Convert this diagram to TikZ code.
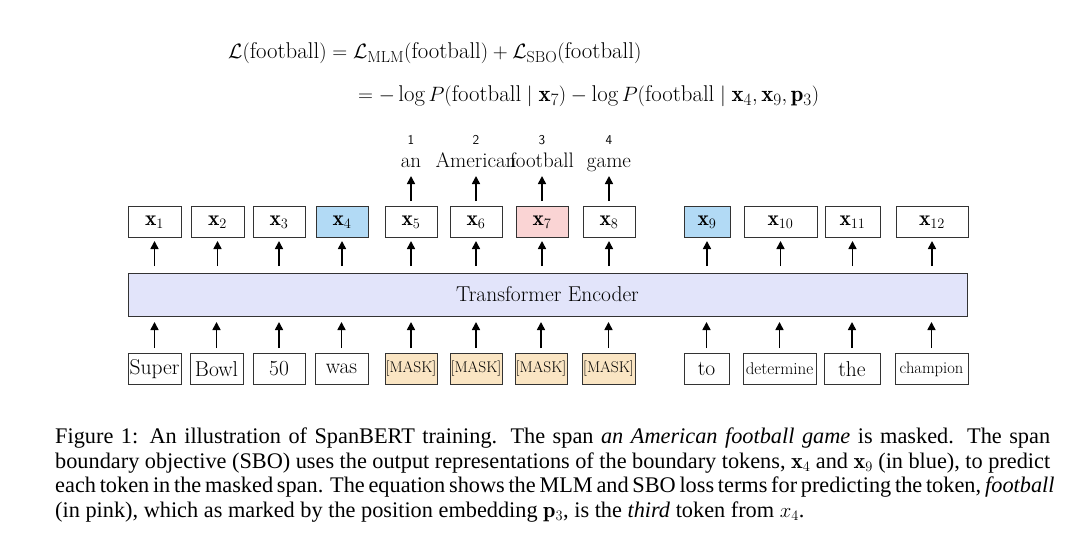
\documentclass[tikz,border=0pt]{standalone}
\usepackage{fontspec}
\usepackage{amsmath}
\newfontfamily\capfont{Liberation Serif}
\usetikzlibrary{arrows.meta}
\definecolor{bl}{RGB}{178,218,245}
\definecolor{pk}{RGB}{250,212,212}
\definecolor{mk}{RGB}{250,229,195}
\definecolor{enc}{RGB}{226,228,250}
\tikzset{
 bx/.style={draw=black!80,line width=0.9pt,minimum height=31pt,inner sep=0pt,font=\fontsize{21.5}{24}\selectfont},
 ar/.style={-{Triangle[length=8pt,width=8pt]},line width=1.6pt},
 captxt/.style={anchor=west,inner sep=0pt,font=\capfont\fontsize{22.3}{25}\selectfont},
}
\newcommand{\capline}[1]{\makebox[995pt][s]{#1}}
\begin{document}
\begin{tikzpicture}[x=1pt,y=-1pt]
\useasboundingbox (0,0) rectangle (1080,541);
\node[font=\fontsize{22.8}{26}\selectfont,anchor=west,inner sep=0pt] (eq1) at (228,53) {$\mathcal{L}(\text{football}) = \mathcal{L}_{\text{MLM}}(\text{football}) + \mathcal{L}_{\text{SBO}}(\text{football})$};
\node[font=\fontsize{22.8}{26}\selectfont,anchor=west,inner sep=0pt] (eq2) at (358,96) {$= -\log P(\text{football} \mid \mathbf{x}_7) - \log P(\text{football} \mid \mathbf{x}_4, \mathbf{x}_9, \mathbf{p}_3)$};
\node[draw=black!80,line width=0.9pt,fill=enc,minimum width=839pt,minimum height=43pt,inner sep=0pt,font=\fontsize{21.5}{24}\selectfont] (enc) at (547.5,294.5) {Transformer Encoder};
\foreach \i/\a/\b/\txt/\col in {1/128/181/{Super}/white,2/190/243/{Bowl}/white,3/253/305/{50}/white,4/315/368/{was}/white,5/385/437/{\fontsize{15.5}{17}\selectfont[MASK]}/mk,6/450/502/{\fontsize{15.5}{17}\selectfont[MASK]}/mk,7/515/567/{\fontsize{15.5}{17}\selectfont[MASK]}/mk,8/582/635/{\fontsize{15.5}{17}\selectfont[MASK]}/mk,9/684/729/{to}/white,10/743/816/{\fontsize{17}{19}\selectfont determine}/white,11/824/880/{the}/white,12/895/968/{\fontsize{16.5}{19}\selectfont champion}/white}{
  \node[bx,fill=\col,minimum width={\b-\a}] (in\i) at ({(\a+\b)/2},369) {\txt};
  \coordinate (ia\i) at ({(\a+\b)/2},348);
  \coordinate (ib\i) at ({(\a+\b)/2},322);
  \draw[ar] (ia\i) -- (ib\i);
}
\foreach \i/\a/\b/\col in {1/128/181/white,2/191/244/white,3/253/305/white,4/316/368/bl,5/385/437/white,6/450/502/white,7/516/568/pk,8/583/635/white,9/684/730/bl,10/744/817/white,11/825/880/white,12/896/968/white}{
  \node[bx,fill=\col,minimum width={\b-\a}] (x\i) at ({(\a+\b)/2},222) {$\mathbf{x}_{\i}$};
  \coordinate (oa\i) at ({(\a+\b)/2},266);
  \coordinate (ob\i) at ({(\a+\b)/2},241);
  \draw[ar] (oa\i) -- (ob\i);
}
\foreach \i/\w/\n in {5/an/1,6/American/2,7/football/3,8/game/4}{
  \node[font=\fontsize{21}{24}\selectfont,anchor=base,inner sep=0pt] (w\i) at (x\i.center |- 0,167) {\w};
  \node[font=\sffamily\fontsize{13.5}{15}\selectfont] (n\i) at (x\i.center |- 0,140) {\n};
  \coordinate (wa\i) at (x\i.center |- 0,201);
  \coordinate (wb\i) at (x\i.center |- 0,176);
  \draw[ar] (wa\i) -- (wb\i);
}
\node[captxt] (c1) at (55,438) {\capline{Figure 1: An illustration of SpanBERT training. The span \textit{an American football game} is masked. The span}};
\node[captxt] (c2) at (55,463) {\capline{boundary objective (SBO) uses the output representations of the boundary tokens, $\mathbf{x}_4$ and $\mathbf{x}_9$ (in blue), to predict}};
\node[captxt] (c3) at (55,487) {\capline{each token in the masked span. The equation shows the MLM and SBO loss terms for predicting the token, \textit{football}}};
\node[captxt] (c4) at (55,512) {(in pink), which as marked by the position embedding $\mathbf{p}_3$, is the \textit{third} token from $x_4$.};
\end{tikzpicture}
\end{document}
